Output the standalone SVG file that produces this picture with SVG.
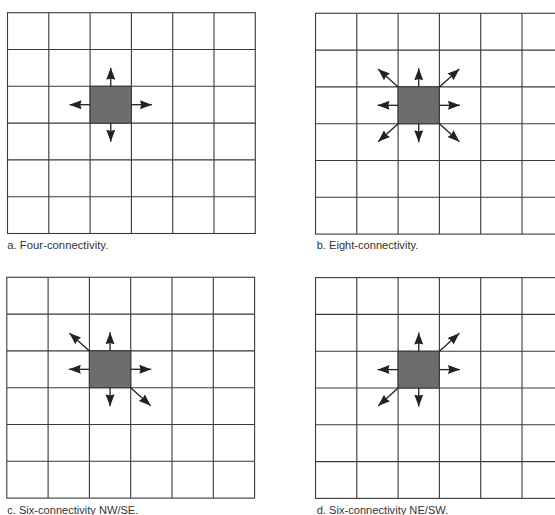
<svg xmlns="http://www.w3.org/2000/svg" width="555" height="515" viewBox="0 0 555 515">
  <defs>
    <style>
      .grid { fill: none; stroke: #3a3a3a; stroke-width: 1.1; }
      .cell { fill: #6d6d6d; stroke: #3a3a3a; stroke-width: 1.1; }
      .arr { fill: none; stroke: #222; stroke-width: 1.3; marker-end: url(#head); }
      .cap { font-family: "Liberation Sans", Arial, sans-serif; font-size: 10px; fill: #333; }
    </style>
    <marker id="head" markerUnits="userSpaceOnUse" markerWidth="12" markerHeight="10" refX="12" refY="5" orient="auto">
      <path d="M0,0.5 L12,5 L0,9.5 L1.2,5 z" fill="#222"/>
    </marker>
    <g id="gridpattern">
      <rect class="grid" x="0" y="0" width="247.8" height="220.8"/>
      <path class="grid" d="M41.3,0V220.8 M82.6,0V220.8 M123.9,0V220.8 M165.2,0V220.8 M206.5,0V220.8 M0,36.8H247.8 M0,73.6H247.8 M0,110.4H247.8 M0,147.2H247.8 M0,184H247.8"/>
      <rect class="cell" x="82.6" y="73.6" width="41.3" height="36.8"/>
    </g>
  </defs>
  <rect width="555" height="515" fill="#ffffff"/>

  <g id="panel-a" transform="translate(7.5,12.7)">
    <use href="#gridpattern"/>
    <g id="arrows-a">
      <line class="arr" x1="103.25" y1="73.6" x2="103.25" y2="55"/>
      <line class="arr" x1="103.25" y1="110.4" x2="103.25" y2="129"/>
      <line class="arr" x1="82.6" y1="92" x2="62" y2="92"/>
      <line class="arr" x1="123.9" y1="92" x2="144.5" y2="92"/>
    </g>
  </g>

  <g id="panel-b" transform="translate(315.5,13.3)">
    <use href="#gridpattern"/>
    <g id="arrows-b">
      <line class="arr" x1="103.25" y1="73.6" x2="103.25" y2="55"/>
      <line class="arr" x1="103.25" y1="110.4" x2="103.25" y2="129"/>
      <line class="arr" x1="82.6" y1="92" x2="62" y2="92"/>
      <line class="arr" x1="123.9" y1="92" x2="144.5" y2="92"/>
      <line class="arr" x1="82.6" y1="73.6" x2="62.6" y2="55.6"/>
      <line class="arr" x1="123.9" y1="73.6" x2="143.9" y2="55.6"/>
      <line class="arr" x1="82.6" y1="110.4" x2="62.6" y2="128.4"/>
      <line class="arr" x1="123.9" y1="110.4" x2="143.9" y2="128.4"/>
    </g>
  </g>

  <g id="panel-c" transform="translate(6.8,277.3)">
    <use href="#gridpattern"/>
    <g id="arrows-c">
      <line class="arr" x1="103.25" y1="73.6" x2="103.25" y2="55"/>
      <line class="arr" x1="103.25" y1="110.4" x2="103.25" y2="129"/>
      <line class="arr" x1="82.6" y1="92" x2="62" y2="92"/>
      <line class="arr" x1="123.9" y1="92" x2="144.5" y2="92"/>
      <line class="arr" x1="82.6" y1="73.6" x2="62.6" y2="55.6"/>
      <line class="arr" x1="123.9" y1="110.4" x2="143.9" y2="128.4"/>
    </g>
  </g>

  <g id="panel-d" transform="translate(315.5,277.6)">
    <use href="#gridpattern"/>
    <g id="arrows-d">
      <line class="arr" x1="103.25" y1="73.6" x2="103.25" y2="55"/>
      <line class="arr" x1="103.25" y1="110.4" x2="103.25" y2="129"/>
      <line class="arr" x1="82.6" y1="92" x2="62" y2="92"/>
      <line class="arr" x1="123.9" y1="92" x2="144.5" y2="92"/>
      <line class="arr" x1="123.9" y1="73.6" x2="143.9" y2="55.6"/>
      <line class="arr" x1="82.6" y1="110.4" x2="62.6" y2="128.4"/>
    </g>
  </g>

  <g id="captions">
    <text class="cap" x="7.3" y="249" textLength="101" lengthAdjust="spacingAndGlyphs">a. Four-connectivity.</text>
    <text class="cap" x="316.7" y="249" textLength="101.6" lengthAdjust="spacingAndGlyphs">b. Eight-connectivity.</text>
    <text class="cap" x="7.3" y="513.5" textLength="131" lengthAdjust="spacingAndGlyphs">c. Six-connectivity NW/SE.</text>
    <text class="cap" x="316.7" y="513.5" textLength="131.6" lengthAdjust="spacingAndGlyphs">d. Six-connectivity NE/SW.</text>
  </g>
</svg>
